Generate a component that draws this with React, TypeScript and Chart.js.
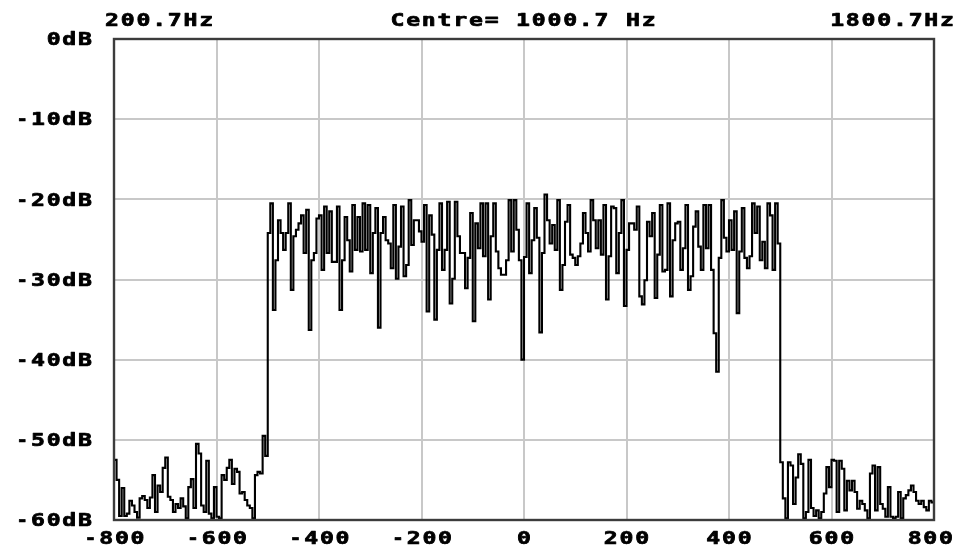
import React, { useEffect, useRef } from "react";
import { Chart, registerables } from "chart.js";

Chart.register(...registerables);

// Spectrum bins: first bin starts at -800 Hz (offset from centre), 5 Hz wide.
const BIN_START_HZ = -800;
const BIN_WIDTH_HZ = 5;

// Levels in dB, one array per 200 Hz grid division.
const band_m800_m600 = [
  -52.5, -55.0, -59.5, -56.0, -59.5, -59.2, -57.6, -58.2, -59.0, -59.7,
  -57.3, -57.0, -57.5, -58.5, -57.2, -54.4, -59.0, -55.7, -56.5, -53.5,
  -52.2, -57.1, -57.5, -59.0, -58.0, -58.5, -57.3, -58.3, -59.8, -55.9,
  -54.9, -58.5, -50.5, -51.7, -58.2, -59.0, -52.6, -59.2, -59.8, -55.9,
];
const band_m600_m400 = [
  -59.6, -59.8, -54.4, -55.0, -53.5, -52.5, -55.5, -53.6, -54.0, -56.7,
  -56.5, -57.5, -58.2, -58.5, -59.8, -54.4, -54.0, -54.2, -49.5, -52.0,
  -24.2, -20.5, -33.8, -27.6, -22.6, -24.2, -26.3, -24.2, -20.5, -31.3,
  -24.6, -23.8, -23.0, -22.0, -26.7, -21.3, -36.3, -27.6, -26.7, -22.4,
];
const band_m400_m200 = [
  -22.0, -28.8, -20.9, -26.7, -21.5, -27.8, -27.8, -20.9, -33.8, -27.6,
  -22.2, -25.1, -29.0, -20.7, -26.3, -22.2, -26.5, -20.5, -26.3, -20.7,
  -29.2, -24.2, -21.1, -36.0, -24.2, -22.2, -25.1, -25.5, -28.6, -20.7,
  -29.9, -25.9, -20.9, -29.6, -28.2, -20.1, -25.7, -22.6, -22.6, -24.0,
];
const band_m200_0 = [
  -25.3, -20.7, -34.0, -22.0, -24.4, -35.0, -26.3, -20.5, -28.8, -26.3,
  -20.3, -33.0, -29.9, -20.3, -24.6, -26.7, -26.7, -31.1, -27.3, -21.7,
  -35.2, -23.0, -26.1, -20.5, -27.1, -20.5, -32.5, -24.6, -20.5, -26.5,
  -28.6, -29.4, -29.4, -27.6, -20.1, -26.5, -20.1, -23.8, -27.6, -40.0,
];
const band_0_200 = [
  -27.2, -20.5, -29.2, -25.1, -21.1, -24.8, -36.6, -26.7, -19.4, -22.6,
  -25.5, -23.2, -26.3, -20.1, -31.3, -28.2, -22.8, -20.7, -26.9, -27.3,
  -28.2, -27.1, -25.5, -21.7, -24.2, -26.5, -20.1, -22.6, -26.1, -22.6,
  -26.9, -20.7, -32.5, -27.1, -20.9, -21.1, -29.2, -24.2, -20.1, -33.3,
];
const band_200_400 = [
  -26.3, -23.0, -23.0, -23.8, -20.9, -32.1, -33.1, -30.1, -22.8, -24.6,
  -21.7, -32.3, -26.9, -20.7, -29.0, -28.8, -20.5, -32.1, -25.1, -23.0,
  -22.8, -28.8, -26.1, -20.7, -31.3, -29.6, -23.4, -21.5, -25.9, -28.8,
  -20.7, -26.1, -20.7, -28.8, -36.7, -41.5, -27.3, -20.1, -24.8, -26.5,
];
const band_400_600 = [
  -22.6, -26.3, -21.5, -34.2, -26.5, -21.1, -27.3, -28.6, -27.1, -20.5,
  -24.2, -20.9, -27.6, -25.3, -28.6, -20.5, -22.0, -28.8, -20.5, -25.5,
  -52.8, -57.3, -59.8, -52.8, -53.2, -58.0, -54.7, -51.8, -53.0, -59.8,
  -59.0, -52.5, -58.5, -59.5, -58.8, -59.8, -59.0, -56.7, -53.4, -55.9,
];
const band_600_800 = [
  -52.5, -52.6, -59.0, -52.6, -53.6, -58.8, -55.1, -56.3, -55.1, -56.5,
  -58.6, -57.6, -58.0, -58.8, -59.8, -54.2, -53.2, -58.8, -53.4, -58.0,
  -58.6, -59.6, -55.9, -59.6, -59.8, -59.6, -56.5, -59.8, -57.3, -56.9,
  -56.3, -55.7, -56.5, -57.6, -58.0, -57.6, -58.4, -58.8, -57.6, -57.8,
];

const xTickValues = [-800, -600, -400, -200, 0, 200, 400, 600, 800];
const xTickLabels = ["-800", "-600", "-400", "-200", "0", "200", "400", "600", "800"];
const yTickValues = [0, -10, -20, -30, -40, -50, -60];
const yTickLabels = ["0dB", "-10dB", "-20dB", "-30dB", "-40dB", "-50dB", "-60dB"];

const topLeftLabel = "200.7Hz";
const topCentreLabel = "Centre= 1000.7 Hz";
const topRightLabel = "1800.7Hz";

const FONT = "bold 17px 'DejaVu Sans Mono'";
const PITCH = 15.7;
const GLYPH_W = 12;
const SX = 1.36;
const CAP_HALF = 6.2;

function drawMono(
  ctx: CanvasRenderingContext2D,
  text: string,
  x: number,
  yCenter: number,
  align: "left" | "right" | "center",
  maxRight?: number
) {
  const n = text.length;
  const inkW = (n - 1) * PITCH + GLYPH_W;
  let start = align === "left" ? x : align === "right" ? x - inkW : x - inkW / 2;
  if (maxRight !== undefined && start + inkW > maxRight) start = maxRight - inkW;
  ctx.font = FONT;
  ctx.textAlign = "center";
  ctx.textBaseline = "alphabetic";
  ctx.lineWidth = 0.7;
  ctx.lineJoin = "round";
  for (let i = 0; i < n; i++) {
    const ch = text[i];
    if (ch === " ") continue;
    const w = ch === "-" ? 0.82 : 1;
    ctx.save();
    ctx.translate(start + i * PITCH + GLYPH_W / 2, yCenter + CAP_HALF);
    ctx.scale(SX * w, 1);
    ctx.fillText(ch, 0, 0);
    ctx.strokeText(ch, 0, 0);
    ctx.restore();
  }
}

export default function App() {
  const canvasRef = useRef<HTMLCanvasElement>(null);

  useEffect(() => {
    const canvas = canvasRef.current;
    if (!canvas) return;
    const levels = [
      ...band_m800_m600,
      ...band_m600_m400,
      ...band_m400_m200,
      ...band_m200_0,
      ...band_0_200,
      ...band_200_400,
      ...band_400_600,
      ...band_600_800,
    ];
    const points = levels.map((y, i) => ({ x: BIN_START_HZ + i * BIN_WIDTH_HZ, y }));
    points.push({ x: BIN_START_HZ + levels.length * BIN_WIDTH_HZ, y: levels[levels.length - 1] });

    const framePlugin = {
      id: "frame",
      afterDatasetsDraw(chart: any) {
        const { ctx, chartArea: a } = chart;
        ctx.save();
        ctx.strokeStyle = "#3c3c3c";
        ctx.lineWidth = 2.4;
        ctx.strokeRect(a.left, a.top, a.right - a.left, a.bottom - a.top);
        ctx.restore();
      },
    };

    const labelsPlugin = {
      id: "spectrumLabels",
      afterDraw(chart: any) {
        const ctx: CanvasRenderingContext2D = chart.ctx;
        const xs = chart.scales.x;
        const ys = chart.scales.y;
        const a = chart.chartArea;
        ctx.save();
        ctx.fillStyle = "#000";
        ctx.strokeStyle = "#000";
        yTickValues.forEach((v, i) => {
          drawMono(ctx, yTickLabels[i], a.left - 23, ys.getPixelForValue(v), "right");
        });
        xTickValues.forEach((v, i) => {
          drawMono(ctx, xTickLabels[i], xs.getPixelForValue(v), a.bottom + 18, "center", chart.width - 6);
        });
        drawMono(ctx, topLeftLabel, a.left - 8, 20, "left");
        drawMono(ctx, topCentreLabel, xs.getPixelForValue(0) - 1, 20, "center");
        drawMono(ctx, topRightLabel, a.right + 19, 20, "right");
        ctx.restore();
      },
    };

    const chart = new Chart(canvas, {
      type: "line",
      data: {
        datasets: [
          {
            data: points,
            stepped: "before",
            borderColor: "#000000",
            borderWidth: 2.1,
            pointRadius: 0,
            fill: false,
          },
        ],
      },
      options: {
        animation: false,
        responsive: false,
        devicePixelRatio: 1,
        layout: { padding: { left: 0, right: 24, top: 39, bottom: 0 } },
        plugins: {
          legend: { display: false },
          tooltip: { enabled: false },
        },
        scales: {
          x: {
            type: "linear",
            min: -800,
            max: 800,
            afterBuildTicks: (s: any) => {
              s.ticks = xTickValues.map((v) => ({ value: v }));
            },
            afterFit: (s: any) => {
              s.height = 29;
            },
            ticks: { display: false },
            grid: { color: "#c8c8c8", lineWidth: 2, drawTicks: false },
            border: { display: false },
          },
          y: {
            type: "linear",
            min: -60,
            max: 0,
            afterBuildTicks: (s: any) => {
              s.ticks = yTickValues.map((v) => ({ value: v }));
            },
            afterFit: (s: any) => {
              s.width = 114;
            },
            ticks: { display: false },
            grid: { color: "#c8c8c8", lineWidth: 2, drawTicks: false },
            border: { display: false },
          },
        },
      },
      plugins: [framePlugin, labelsPlugin],
    });

    return () => chart.destroy();
  }, []);

  return (
    <div style={{ position: "fixed", left: 0, top: 0, width: 958, height: 549, background: "#fff" }}>
      <canvas ref={canvasRef} width={958} height={549} style={{ display: "block", width: 958, height: 549 }} />
    </div>
  );
}
